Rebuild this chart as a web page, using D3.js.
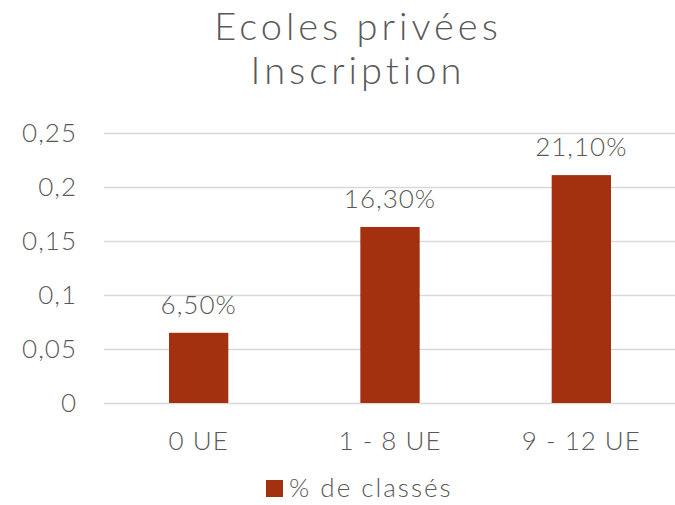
<!DOCTYPE html>
<html>
<head>
<meta charset="utf-8">
<script src="https://cdn.jsdelivr.net/npm/d3@7"></script>
<style>
  body { margin: 0; background: #fff; }
  svg text { font-family: Lato, "Noto Sans", sans-serif; font-weight: 300; fill: #595959; }
</style>
</head>
<body>
<div id="chart"></div>
<script>
const categories = ['0 UE', '1 - 8 UE', '9 - 12 UE'];
const values = [0.065, 0.163, 0.211];
const valueLabels = ['6,50%', '16,30%', '21,10%'];
const yTicks = [0, 0.05, 0.1, 0.15, 0.2, 0.25];
const titleLines = ['Ecoles privées', 'Inscription'];
const seriesName = '% de classés';

const width = 675;
const height = 505;
const barColor = '#a3300f';

const svg = d3.select('#chart')
    .append('svg')
    .attr('width', width)
    .attr('height', height);

const x = d3.scaleBand()
    .domain(categories)
    .range([103, 677])
    .paddingInner(0.69)
    .paddingOuter(0.345);

const y = d3.scaleLinear()
    .domain([0, 0.25])
    .range([403, 133]);

// gridlines + y labels
const yAxis = d3.axisLeft(y)
    .tickValues(yTicks)
    .tickSize(-(width - 104))
    .tickPadding(27)
    .tickFormat(d => String(d).replace('.', ','));

svg.append('g')
    .attr('transform', 'translate(104, 0)')
    .call(yAxis)
    .call(g => g.select('.domain').remove())
    .call(g => g.selectAll('line').attr('stroke', '#d9d9d9').attr('stroke-width', 1.3))
    .call(g => g.selectAll('text')
        .attr('fill', '#595959')
        .style('font-family', 'Lato, sans-serif')
        .style('font-weight', 300)
        .style('font-size', '26px')
        .style('letter-spacing', '1px'));

// bars
svg.selectAll('rect.bar')
    .data(values)
    .enter()
        .append('rect')
        .attr('class', 'bar')
        .attr('x', (d, i) => x(categories[i]))
        .attr('width', x.bandwidth())
        .attr('y', d => y(d))
        .attr('height', d => y(0) - y(d))
        .attr('fill', barColor);

// data labels
svg.selectAll('text.vlabel')
    .data(values)
    .enter()
        .append('text')
        .attr('class', 'vlabel')
        .attr('x', (d, i) => x(categories[i]) + x.bandwidth() / 2)
        .attr('y', d => y(d) - 19)
        .attr('text-anchor', 'middle')
        .style('font-size', '26px')
        .style('letter-spacing', '1px')
        .text((d, i) => valueLabels[i]);

// x labels
const xAxis = d3.axisBottom(x).tickSize(0).tickPadding(47);
svg.append('g')
    .attr('transform', `translate(0, ${y(0)})`)
    .call(xAxis)
    .call(g => g.select('.domain').remove())
    .call(g => g.selectAll('text')
        .attr('fill', '#595959')
        .attr('dy', 0)
        .style('font-family', 'Lato, sans-serif')
        .style('font-weight', 300)
        .style('font-size', '26px')
        .style('letter-spacing', '1px'));

// title
svg.append('g')
    .selectAll('text')
    .data(titleLines)
    .enter()
        .append('text')
        .attr('x', 358)
        .attr('y', (d, i) => 40 + i * 44)
        .attr('text-anchor', 'middle')
        .style('font-size', '38px')
        .style('letter-spacing', '4px')
        .text(d => d);

// legend
const legend = svg.append('g').attr('transform', 'translate(266, 480)');
legend.append('rect')
    .attr('width', 17)
    .attr('height', 17)
    .attr('fill', barColor);
legend.append('text')
    .attr('x', 23)
    .attr('y', 17)
    .style('font-size', '26px')
    .style('letter-spacing', '2px')
    .text(seriesName);
</script>
</body>
</html>
